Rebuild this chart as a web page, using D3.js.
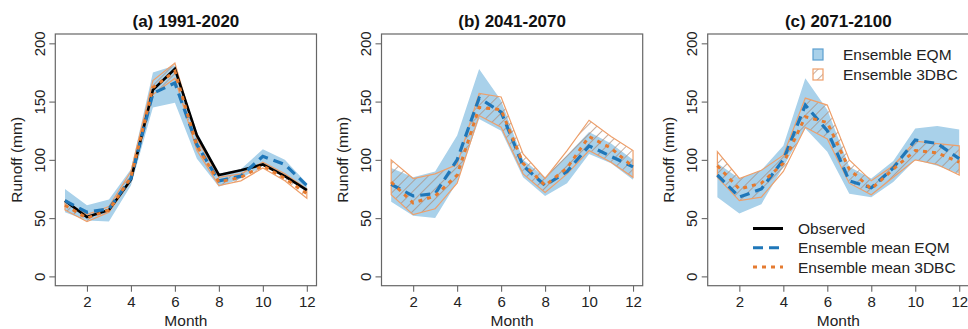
<!DOCTYPE html>
<html>
<head>
<meta charset="utf-8">
<script src="https://cdn.jsdelivr.net/npm/d3@7"></script>
<style>
  body { margin: 0; background: #fff; }
  svg { display: block; font-family: "Liberation Sans", Arial, sans-serif; }
</style>
</head>
<body>
<svg id="chart" width="968" height="329"></svg>
<script>
const months = [1, 2, 3, 4, 5, 6, 7, 8, 9, 10, 11, 12];
const xTicks = [2, 4, 6, 8, 10, 12];
const yTicks = [0, 50, 100, 150, 200];
const titles = ['(a) 1991-2020', '(b) 2041-2070', '(c) 2071-2100'];

const observed = [65, 51, 57, 83, 160, 178, 121, 87, 91, 96, 86, 74];

const eqmMeanA = [65, 55, 58, 84, 157, 166, 113, 82, 86, 103, 96, 78];
const eqmLowA  = [55, 48, 47, 78, 145, 149, 101, 77, 84, 95, 88, 72];
const eqmHighA = [75, 61, 66, 92, 175, 181, 124, 88, 92, 109, 100, 80];
const dbcMeanA = [61, 50, 57, 85, 162, 176, 112, 81, 85, 95, 84, 71];
const dbcLowA  = [57, 47, 55, 82, 156, 170, 108, 78, 82, 93, 82, 67];
const dbcHighA = [64, 53, 60, 90, 168, 183, 118, 85, 88, 98, 88, 75];

const eqmMeanB = [79, 69, 71, 100, 153, 141, 95, 78, 90, 112, 103, 94];
const eqmLowB  = [64, 52, 50, 81, 135, 125, 85, 69, 80, 105, 97, 83];
const eqmHighB = [93, 85, 90, 121, 178, 151, 100, 85, 104, 124, 114, 100];
const dbcMeanB = [81, 63, 69, 87, 145, 143, 97, 78, 93, 120, 110, 94];
const dbcLowB  = [70, 53, 58, 80, 138, 128, 88, 72, 88, 108, 98, 85];
const dbcHighB = [100, 84, 88, 96, 157, 154, 105, 84, 108, 134, 120, 108];

const eqmMeanC = [87, 68, 75, 100, 147, 125, 82, 76, 93, 117, 114, 101];
const eqmLowC  = [68, 54, 62, 94, 127, 107, 71, 68, 81, 100, 95, 88];
const eqmHighC = [97, 84, 91, 112, 170, 143, 94, 84, 99, 127, 129, 126];
const dbcMeanC = [95, 75, 80, 97, 137, 132, 92, 75, 92, 108, 106, 98];
const dbcLowC  = [85, 65, 68, 90, 128, 118, 80, 70, 85, 100, 96, 87];
const dbcHighC = [107, 84, 91, 104, 153, 147, 100, 82, 95, 116, 114, 112];

const panels = [
  { title: titles[0], obs: observed, eqm: [eqmLowA, eqmMeanA, eqmHighA], dbc: [dbcLowA, dbcMeanA, dbcHighA] },
  { title: titles[1], obs: null, eqm: [eqmLowB, eqmMeanB, eqmHighB], dbc: [dbcLowB, dbcMeanB, dbcHighB] },
  { title: titles[2], obs: null, eqm: [eqmLowC, eqmMeanC, eqmHighC], dbc: [dbcLowC, dbcMeanC, dbcHighC], legend: true }
];

const blueFill = '#a9d1ea';
const blueLine = '#1f77b9';
const orangeLine = '#e57b30';
const orangeEdge = '#ee9f6a';
const hatchCol = '#ad8b76';

const svg = d3.select('#chart');
const plotTop = 34, w = 261.2, h = 251.7;

const defs = svg.append('defs');
const pat = defs.append('pattern')
  .attr('id', 'hatch')
  .attr('patternUnits', 'userSpaceOnUse')
  .attr('width', 7).attr('height', 7)
  .attr('patternTransform', 'rotate(45)');
pat.append('line')
  .attr('x1', 0).attr('y1', 0).attr('x2', 0).attr('y2', 7)
  .attr('stroke', hatchCol).attr('stroke-width', 1.4);

const x = d3.scaleLinear().domain([0.56, 12.44]).range([0, w]);
const y = d3.scaleLinear().domain([-8, 208]).range([h, 0]);

panels.forEach((p, i) => {
  const left = 55.3 + i * 326.2;
  const g = svg.append('g').attr('transform', `translate(${left},${plotTop})`);

  const clipId = 'clip' + i;
  defs.append('clipPath').attr('id', clipId)
    .append('rect').attr('width', w).attr('height', h);
  const plot = g.append('g').attr('clip-path', `url(#${clipId})`);

  const band = d3.area().x((d, k) => x(months[k])).y0(d => y(d[0])).y1(d => y(d[1]));
  const line = d3.line().x((d, k) => x(months[k]));

  plot.append('path')
    .datum(p.eqm[0].map((v, k) => [v, p.eqm[2][k]]))
    .attr('d', band)
    .attr('fill', blueFill);

  plot.append('path')
    .datum(p.dbc[0].map((v, k) => [v, p.dbc[2][k]]))
    .attr('d', band)
    .attr('fill', 'url(#hatch)')
    .attr('stroke', orangeEdge)
    .attr('stroke-width', 1.2);

  if (p.obs) {
    plot.append('path')
      .datum(p.obs)
      .attr('d', line.y(d => y(d)))
      .attr('fill', 'none')
      .attr('stroke', '#000')
      .attr('stroke-width', 2.6);
  }

  plot.append('path')
    .datum(p.eqm[1])
    .attr('d', line.y(d => y(d)))
    .attr('fill', 'none')
    .attr('stroke', blueLine)
    .attr('stroke-width', 3.2)
    .attr('stroke-dasharray', '10,6');

  plot.append('path')
    .datum(p.dbc[1])
    .attr('d', line.y(d => y(d)))
    .attr('fill', 'none')
    .attr('stroke', orangeLine)
    .attr('stroke-width', 3)
    .attr('stroke-dasharray', '4,5');

  // box
  g.append('rect')
    .attr('width', w).attr('height', h)
    .attr('fill', 'none')
    .attr('stroke', '#666')
    .attr('stroke-width', 1.2);

  // axes
  const xa = g.append('g')
    .attr('transform', `translate(0,${h})`)
    .call(d3.axisBottom(x).tickValues(xTicks).tickSize(6));
  xa.select('.domain').remove();
  xa.selectAll('.tick line').attr('stroke', '#666').attr('stroke-width', 1.1);
  xa.selectAll('.tick text')
    .attr('y', 21).attr('dy', null)
    .attr('fill', '#222').attr('font-size', 15);

  const ya = g.append('g')
    .call(d3.axisLeft(y).tickValues(yTicks).tickSize(6));
  ya.select('.domain').remove();
  ya.selectAll('.tick line').attr('stroke', '#666').attr('stroke-width', 1.1);
  ya.selectAll('.tick text')
    .attr('transform', 'rotate(-90)')
    .attr('x', 0).attr('y', -10.5).attr('dy', null)
    .attr('text-anchor', 'middle')
    .attr('fill', '#222').attr('font-size', 15);

  g.append('text')
    .attr('x', w / 2).attr('y', -7.5)
    .attr('text-anchor', 'middle')
    .attr('font-weight', 'bold')
    .attr('font-size', 17)
    .attr('fill', '#111')
    .text(p.title);

  g.append('text')
    .attr('x', w / 2).attr('y', h + 40)
    .attr('text-anchor', 'middle')
    .attr('font-size', 15.5)
    .attr('fill', '#222')
    .text('Month');

  g.append('text')
    .attr('transform', `translate(-33.5,${h / 2}) rotate(-90)`)
    .attr('text-anchor', 'middle')
    .attr('font-size', 15.5)
    .attr('fill', '#222')
    .text('Runoff (mm)');

  if (p.legend) {
    const lg = g.append('g').attr('transform', `translate(${813 - left},0)`);
    lg.append('rect').attr('x', 0).attr('y', 15).attr('width', 10).attr('height', 11)
      .attr('fill', blueFill).attr('stroke', '#5d9fcf').attr('stroke-width', 1.2);
    lg.append('rect').attr('x', 0).attr('y', 35).attr('width', 10).attr('height', 11)
      .attr('fill', 'url(#hatch)').attr('stroke', orangeEdge).attr('stroke-width', 1.2);
    lg.append('text').attr('x', 30).attr('y', 25.5).attr('font-size', 15.5).attr('fill', '#222').text('Ensemble EQM');
    lg.append('text').attr('x', 30).attr('y', 45.5).attr('font-size', 15.5).attr('fill', '#222').text('Ensemble 3DBC');

    const items = [
      { label: 'Observed', color: '#000', dash: null },
      { label: 'Ensemble mean EQM', color: blueLine, dash: '10,6' },
      { label: 'Ensemble mean 3DBC', color: orangeLine, dash: '4,5' }
    ];
    const lb = g.append('g').attr('transform', `translate(${753 - left},${228.5 - plotTop})`);
    items.forEach((it, k) => {
      lb.append('line')
        .attr('x1', 0).attr('x2', 30)
        .attr('y1', k * 19.3).attr('y2', k * 19.3)
        .attr('stroke', it.color).attr('stroke-width', 3)
        .attr('stroke-dasharray', it.dash);
      lb.append('text')
        .attr('x', 45).attr('y', k * 19.3 + 5.5)
        .attr('font-size', 15.5).attr('fill', '#222')
        .text(it.label);
    });
  }
});
</script>
</body>
</html>
